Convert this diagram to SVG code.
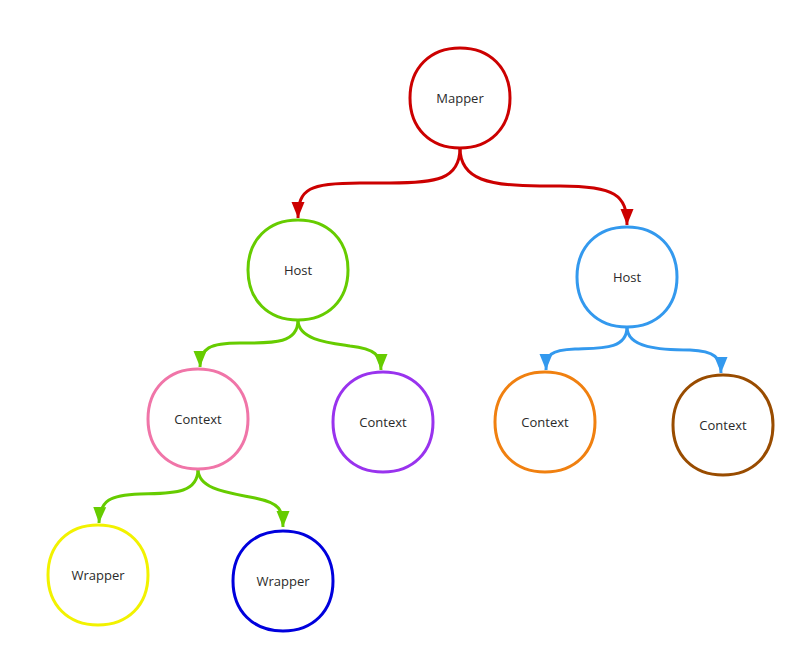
<svg xmlns="http://www.w3.org/2000/svg" xmlns:xlink="http://www.w3.org/1999/xlink" width="805" height="663" viewBox="0 0 805 663">
<style>
.n{fill:#fff;stroke-width:3}
.t{font-family:"Open Sans","Noto Sans",sans-serif;font-size:13px;fill:#2a2a2a;text-anchor:middle;dominant-baseline:central}
.c{fill:none;stroke-width:3}
</style>
<defs>
<path id="blob" d="M-50,0 C-50,-30 -30,-50 0,-50 C30,-50 50,-30 50,0 C50,30 30,50 0,50 C-30,50 -50,30 -50,0Z"/>
<marker id="aR" markerUnits="userSpaceOnUse" markerWidth="17" markerHeight="16" viewBox="0 0 17 16" refX="16" refY="8" orient="auto"><path d="M0,1.5 L16,8 L0,14.5 Z" fill="#CC0000"/></marker>
<marker id="aG" markerUnits="userSpaceOnUse" markerWidth="17" markerHeight="16" viewBox="0 0 17 16" refX="16" refY="8" orient="auto"><path d="M0,1.5 L16,8 L0,14.5 Z" fill="#66CC00"/></marker>
<marker id="aB" markerUnits="userSpaceOnUse" markerWidth="17" markerHeight="16" viewBox="0 0 17 16" refX="16" refY="8" orient="auto"><path d="M0,1.5 L16,8 L0,14.5 Z" fill="#3399EE"/></marker>
</defs>
<rect width="805" height="663" fill="#fff"/>
<g id="connectors">
<path class="c" stroke="#CC0000" marker-end="url(#aR)" d="M460,148 C460,180 435,183 390,183 L360,183 C310,183 298,188 298,218"/>
<path class="c" stroke="#CC0000" marker-end="url(#aR)" d="M460,148 C460,180 490,186 540,186 L560,186 C615,186 627,195 627,225"/>
<path class="c" stroke="#66CC00" marker-end="url(#aG)" d="M298,320 C298,345 270,343 240,343 C210,343 200,348 200,367"/>
<path class="c" stroke="#66CC00" marker-end="url(#aG)" d="M298,320 C298,340 330,343 350,346 C375,349 381,355 381,370"/>
<path class="c" stroke="#66CC00" marker-end="url(#aG)" d="M198,469 C198,495 170,493 140,494 C110,495 100,500 99,523"/>
<path class="c" stroke="#66CC00" marker-end="url(#aG)" d="M198,469 C198,490 230,493 255,498 C280,503 283,510 283,527"/>
<path class="c" stroke="#3399EE" marker-end="url(#aB)" d="M627,327 C627,350 600,348 575,349 C550,350 546,355 546,370"/>
<path class="c" stroke="#3399EE" marker-end="url(#aB)" d="M627,327 C627,348 660,350 690,350 C715,351 721,358 721,373"/>
</g>
<g id="mapper"><use href="#blob" class="n" stroke="#CC0000" transform="translate(460,98)"/><text class="t" x="460" y="98">Mapper</text></g>
<g id="host1"><use href="#blob" class="n" stroke="#66CC00" transform="translate(298,270)"/><text class="t" x="298" y="270">Host</text></g>
<g id="host2"><use href="#blob" class="n" stroke="#3399EE" transform="translate(627,277)"/><text class="t" x="627" y="277">Host</text></g>
<g id="context1"><use href="#blob" class="n" stroke="#F075A8" transform="translate(198,419)"/><text class="t" x="198" y="419">Context</text></g>
<g id="context2"><use href="#blob" class="n" stroke="#9933EE" transform="translate(383,422)"/><text class="t" x="383" y="422">Context</text></g>
<g id="context3"><use href="#blob" class="n" stroke="#F08010" transform="translate(545,422)"/><text class="t" x="545" y="422">Context</text></g>
<g id="context4"><use href="#blob" class="n" stroke="#994C00" transform="translate(723,425)"/><text class="t" x="723" y="425">Context</text></g>
<g id="wrapper1"><use href="#blob" class="n" stroke="#F2F200" transform="translate(98,575)"/><text class="t" x="98" y="575">Wrapper</text></g>
<g id="wrapper2"><use href="#blob" class="n" stroke="#0000DD" transform="translate(283,581)"/><text class="t" x="283" y="581">Wrapper</text></g>
</svg>
